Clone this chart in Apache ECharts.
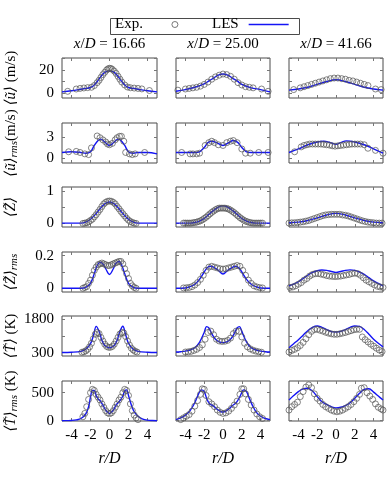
<!DOCTYPE html>
<html><head><meta charset="utf-8">
<script src="https://cdn.jsdelivr.net/npm/echarts@6/dist/echarts.min.js"></script>
<style>html,body{margin:0;padding:0;background:#fff}#c{width:390px;height:496px}</style>
</head><body><div id="c"></div>
<script>
// ---------- DATA ----------
const X_TICKS = [-4, -2, 0, 2, 4];
const COLUMN_TITLES = ['16.66', '25.00', '41.66'];

// Row 1: <u> (m/s)
const U_EXP_1 = [[-4.4,1.5],[-3.5,3.5],[-3.1,4],[-2.7,4.4],[-2.3,4.7],[-1.9,5],[-1.6,6.5],[-1.3,9],[-1.1,11],[-0.9,13.5],[-0.7,16],[-0.5,18],[-0.3,20],[-0.15,21],[0,21.5],[0.15,21.3],[0.3,20.5],[0.5,19],[0.7,17],[0.9,14.5],[1.1,12],[1.3,9.5],[1.6,7],[1.9,5.2],[2.2,4.6],[2.6,4.3],[3,4],[3.4,3.6],[4.2,2.2]];
const U_LES_1 = [[-5,1],[-4,2],[-3,3.3],[-2.5,4],[-2,4.8],[-1.6,7],[-1.2,11],[-0.8,15.5],[-0.4,18.3],[0,19.2],[0.4,18.3],[0.8,15.5],[1.2,11],[1.6,7],[2,4.8],[2.5,4],[3,3.3],[4,2],[5,1]];
const U_EXP_2 = [[-4.8,2.5],[-4,3.5],[-3.6,4],[-3.2,4.5],[-2.8,5],[-2.4,6],[-2,7.5],[-1.6,9.5],[-1.2,12],[-0.8,14],[-0.4,15.5],[0,16.5],[0.4,16],[0.8,14.5],[1.2,12],[1.6,9],[2,7],[2.4,5.5],[2.8,5],[3.2,4.5],[4.1,3.5],[4.8,1.5]];
const U_LES_2 = [[-5,1.5],[-4,3],[-3,5],[-2,8],[-1.5,10.5],[-1,13],[-0.5,15.5],[0,16.5],[0.5,15.5],[1,13],[1.5,10.5],[2,7.5],[3,4.5],[4,3],[5,1]];
const U_EXP_3 = [[-4.5,3],[-3.8,4.5],[-3.4,5.5],[-3,6.5],[-2.6,7.5],[-2.2,8.5],[-1.8,9.5],[-1.4,10.5],[-1,11.5],[-0.6,12.5],[-0.2,13],[0.2,13],[0.6,12.5],[1,12],[1.4,11],[1.8,10.5],[2.2,9.5],[2.6,8.5],[3,7.5],[3.4,6.5],[4.2,3.5],[4.8,3]];
const U_LES_3 = [[-5,2.5],[-4,3.5],[-3,5],[-2,7.5],[-1,10],[0,11.5],[1,10],[2,7.5],[3,5],[4,3.5],[5,2.5]];

// Row 2: <u>_rms (m/s)
const URMS_EXP_1 = [[-4.3,0.9],[-3.5,0.95],[-3.1,0.8],[-2.6,0.6],[-2.2,0.5],[-1.9,1.45],[-1.3,3.15],[-1,2.9],[-0.7,2.6],[-0.4,2.3],[-0.2,2.0],[0,1.9],[0.3,2.1],[0.6,2.6],[0.8,2.9],[1.05,3.1],[1.25,3.1],[1.5,2.4],[1.7,0.8],[2.1,0.6],[2.4,0.5],[2.7,0.6],[3.7,0.8]];
const URMS_LES_1 = [[-5,0.8],[-4,0.9],[-3,0.8],[-2.5,0.7],[-2,0.9],[-1.6,1.8],[-1.2,2.5],[-0.9,2.7],[-0.5,2.3],[0,1.8],[0.5,2.3],[0.9,2.7],[1.2,2.5],[1.6,1.8],[2,0.9],[2.5,0.7],[3,0.8],[4,0.8],[5,0.6]];
const URMS_EXP_2 = [[-4.4,0.8],[-3.5,0.6],[-3.2,0.6],[-2.8,0.6],[-2.5,0.7],[-1.9,1.8],[-1.5,2.2],[-1.2,2.4],[-0.9,2.2],[-0.5,1.9],[0,1.8],[0.4,2.2],[0.8,2.4],[1.1,2.5],[1.5,2.2],[2,1.3],[2.4,0.7],[2.9,0.7],[3.8,0.8],[4.8,0.8]];
const URMS_LES_2 = [[-5,0.8],[-4,0.8],[-3,0.8],[-2.5,0.9],[-2,1.5],[-1.6,2.2],[-1.2,2.4],[-0.7,2.2],[0,1.8],[0.6,2.2],[1.1,2.5],[1.6,2.2],[2,1.5],[2.5,0.9],[3,0.8],[4,0.8],[5,0.8]];
const URMS_EXP_3 = [[-4.4,0.9],[-3.7,1.6],[-3.4,1.8],[-3.1,1.9],[-2.8,2.0],[-2.5,2.0],[-2.2,2.0],[-1.9,2.0],[-1.6,2.0],[-1.3,1.95],[-1,1.9],[-0.7,1.85],[-0.4,1.75],[-0.1,1.7],[0.2,1.75],[0.5,1.8],[0.8,1.85],[1.1,1.9],[1.4,1.95],[1.7,2.0],[2,2.0],[2.3,2.0],[2.6,2.0],[3,1.9],[3.4,1.4],[4.2,1.1],[5,0.7]];
const URMS_LES_3 = [[-5,0.8],[-4,1.3],[-3,1.9],[-2,2.3],[-1.3,2.4],[-0.6,2.2],[0,1.95],[0.5,2.2],[1.1,2.45],[2,2.3],[3,1.9],[4,1.3],[5,0.7]];

// Row 3: <Z>
const Z_EXP_1 = [[-2.8,0],[-2.6,0.01],[-2.4,0.02],[-2.2,0.05],[-2,0.09],[-1.8,0.13],[-1.6,0.2],[-1.4,0.27],[-1.2,0.35],[-1,0.43],[-0.8,0.52],[-0.6,0.6],[-0.4,0.65],[-0.2,0.68],[0,0.69],[0.2,0.68],[0.4,0.65],[0.6,0.6],[0.8,0.52],[1,0.45],[1.2,0.37],[1.4,0.3],[1.6,0.23],[1.8,0.16],[2,0.1],[2.2,0.06],[2.4,0.03],[2.6,0.01],[2.8,0]];
const Z_LES_1 = [[-5,0.01],[-3,0.01],[-2.5,0.04],[-2,0.13],[-1.5,0.27],[-1,0.45],[-0.5,0.6],[0,0.66],[0.5,0.6],[1,0.45],[1.5,0.27],[2,0.13],[2.5,0.04],[3,0.01],[5,0.01]];
const Z_EXP_2 = [[-4.2,0.01],[-4,0.01],[-3.8,0.01],[-3.6,0.01],[-3.4,0.01],[-3.2,0.02],[-3,0.03],[-2.8,0.04],[-2.6,0.06],[-2.4,0.08],[-2.2,0.11],[-2,0.15],[-1.8,0.19],[-1.6,0.24],[-1.4,0.29],[-1.2,0.34],[-1,0.38],[-0.8,0.42],[-0.6,0.45],[-0.4,0.47],[-0.2,0.47],[0,0.47],[0.2,0.47],[0.4,0.46],[0.6,0.44],[0.8,0.41],[1,0.37],[1.2,0.33],[1.4,0.28],[1.6,0.23],[1.8,0.18],[2,0.14],[2.2,0.1],[2.4,0.07],[2.6,0.05],[2.8,0.03],[3,0.02],[3.2,0.01],[3.4,0.01],[3.6,0.01],[3.8,0.01],[4,0.01],[4.2,0.01]];
const Z_LES_2 = [[-5,0.01],[-3.5,0.01],[-3,0.03],[-2.5,0.07],[-2,0.15],[-1.5,0.28],[-1,0.4],[-0.5,0.5],[0,0.54],[0.5,0.5],[1,0.4],[1.5,0.28],[2,0.15],[2.5,0.07],[3,0.03],[3.5,0.01],[5,0.01]];
const Z_EXP_3 = [[-5,0.01],[-4.7,0.02],[-4.4,0.02],[-4.1,0.03],[-3.8,0.04],[-3.5,0.05],[-3.2,0.07],[-2.9,0.09],[-2.6,0.12],[-2.3,0.15],[-2,0.18],[-1.7,0.21],[-1.4,0.24],[-1.1,0.26],[-0.8,0.27],[-0.5,0.28],[-0.2,0.28],[0.1,0.28],[0.4,0.28],[0.7,0.26],[1,0.25],[1.3,0.23],[1.6,0.2],[1.9,0.17],[2.2,0.14],[2.5,0.11],[2.8,0.08],[3.1,0.06],[3.4,0.04],[3.7,0.03],[4,0.02],[4.3,0.01],[4.6,0.01],[4.9,0.01]];
const Z_LES_3 = [[-5,0.02],[-4,0.04],[-3,0.09],[-2,0.17],[-1,0.26],[0,0.31],[1,0.26],[2,0.17],[3,0.09],[4,0.04],[5,0.02]];

// Row 4: <Z>_rms
const ZRMS_EXP_1 = [[-2.8,0],[-2.6,0.005],[-2.4,0.01],[-2.2,0.03],[-2,0.05],[-1.8,0.08],[-1.6,0.11],[-1.4,0.13],[-1.2,0.145],[-1,0.15],[-0.8,0.155],[-0.6,0.15],[-0.4,0.145],[-0.2,0.14],[0,0.14],[0.2,0.145],[0.4,0.15],[0.6,0.155],[0.8,0.16],[1,0.165],[1.2,0.165],[1.4,0.15],[1.6,0.12],[1.8,0.09],[2,0.06],[2.2,0.03],[2.4,0.015],[2.6,0.005],[2.8,0]];
const ZRMS_LES_1 = [[-5,0],[-3,0],[-2.5,0.005],[-2,0.03],[-1.6,0.09],[-1.3,0.14],[-1,0.16],[-0.7,0.15],[-0.4,0.12],[0,0.085],[0.4,0.12],[0.7,0.155],[1,0.165],[1.3,0.14],[1.6,0.09],[2,0.03],[2.5,0.005],[3,0],[5,0]];
const ZRMS_EXP_2 = [[-4.2,0.002],[-3.9,0.003],[-3.6,0.005],[-3.3,0.01],[-3,0.02],[-2.7,0.035],[-2.4,0.055],[-2.1,0.08],[-1.8,0.11],[-1.5,0.13],[-1.2,0.135],[-0.9,0.13],[-0.6,0.125],[-0.3,0.12],[0,0.118],[0.3,0.12],[0.6,0.125],[0.9,0.13],[1.2,0.135],[1.5,0.14],[1.8,0.135],[2.1,0.11],[2.4,0.08],[2.7,0.05],[3,0.03],[3.3,0.015],[3.6,0.008],[3.9,0.004],[4.2,0.002]];
const ZRMS_LES_2 = [[-5,0],[-4,0.002],[-3.5,0.01],[-3,0.025],[-2.5,0.055],[-2,0.1],[-1.7,0.125],[-1.4,0.135],[-1,0.13],[-0.5,0.11],[0,0.088],[0.5,0.11],[1,0.128],[1.3,0.135],[1.7,0.125],[2,0.1],[2.5,0.055],[3,0.025],[3.5,0.01],[4,0.002],[5,0]];
const ZRMS_EXP_3 = [[-4.9,0.005],[-4.6,0.008],[-4.3,0.015],[-4,0.025],[-3.7,0.035],[-3.4,0.05],[-3.1,0.06],[-2.8,0.075],[-2.5,0.085],[-2.2,0.09],[-1.9,0.09],[-1.6,0.087],[-1.3,0.083],[-1,0.078],[-0.7,0.075],[-0.4,0.073],[-0.1,0.072],[0.2,0.073],[0.5,0.075],[0.8,0.078],[1.1,0.082],[1.4,0.085],[1.7,0.09],[2,0.093],[2.3,0.09],[2.6,0.08],[2.9,0.065],[3.2,0.05],[3.5,0.04],[3.8,0.03],[4.1,0.02],[4.4,0.012],[4.7,0.008],[5,0.005]];
const ZRMS_LES_3 = [[-5,0.015],[-4.5,0.025],[-4,0.04],[-3.5,0.06],[-3,0.08],[-2.5,0.097],[-2,0.108],[-1.5,0.112],[-1,0.11],[-0.5,0.103],[0,0.098],[0.5,0.103],[1,0.11],[1.5,0.113],[2,0.11],[2.5,0.1],[3,0.085],[3.5,0.065],[4,0.045],[4.5,0.03],[5,0.015]];

// Row 5: <T> (K)
const T_EXP_1 = [[-2.9,320],[-2.7,340],[-2.5,380],[-2.3,450],[-2.1,560],[-1.9,720],[-1.7,920],[-1.5,1120],[-1.3,1200],[-1.1,1150],[-0.9,980],[-0.7,820],[-0.5,680],[-0.3,580],[-0.1,540],[0.1,540],[0.3,580],[0.5,680],[0.7,820],[0.9,980],[1.1,1130],[1.3,1200],[1.5,1180],[1.7,1020],[1.9,820],[2.1,640],[2.3,500],[2.5,420],[2.7,360],[2.9,330]];
const T_LES_1 = [[-5,310],[-4,320],[-3,360],[-2.5,450],[-2,700],[-1.7,1050],[-1.4,1470],[-1.1,1250],[-0.8,850],[-0.5,620],[0,520],[0.5,620],[0.8,850],[1.1,1250],[1.4,1480],[1.7,1100],[2,720],[2.5,450],[3,360],[4,320],[5,310]];
const T_EXP_2 = [[-4,330],[-3.7,340],[-3.4,360],[-3.1,400],[-2.8,450],[-2.5,530],[-2.2,650],[-1.9,900],[-1.6,1200],[-1.3,1260],[-1,1100],[-0.7,900],[-0.4,820],[-0.1,800],[0.2,810],[0.5,850],[0.8,950],[1.1,1150],[1.4,1260],[1.7,1250],[2,1000],[2.3,720],[2.6,560],[2.9,470],[3.2,410],[3.5,370],[3.8,340],[4.1,320]];
const T_LES_2 = [[-5,330],[-4.5,345],[-4,370],[-3.5,420],[-3,520],[-2.5,760],[-2,1200],[-1.75,1460],[-1.5,1400],[-1.2,1150],[-0.8,900],[-0.4,780],[0,750],[0.4,780],[0.8,900],[1.2,1150],[1.5,1400],[1.75,1460],[2,1250],[2.5,780],[3,520],[3.5,420],[4,370],[4.5,345],[5,330]];
const T_EXP_3 = [[-5,330],[-4.7,400],[-4.4,450],[-4.1,520],[-3.8,620],[-3.5,760],[-3.2,920],[-2.9,1100],[-2.6,1250],[-2.3,1330],[-2,1340],[-1.7,1300],[-1.4,1260],[-1.1,1210],[-0.8,1170],[-0.5,1140],[-0.2,1120],[0.1,1120],[0.4,1140],[0.7,1170],[1,1200],[1.3,1240],[1.6,1280],[1.9,1320],[2.2,1340],[2.5,1340],[2.8,1000],[3.1,880],[3.4,780],[3.7,680],[4,590],[4.3,500],[4.6,420],[4.9,350]];
const T_LES_3 = [[-5,520],[-4.5,700],[-4,880],[-3.5,1080],[-3,1280],[-2.5,1430],[-2,1490],[-1.5,1430],[-1,1330],[-0.5,1240],[0,1220],[0.5,1250],[1,1330],[1.5,1430],[2,1490],[2.5,1470],[3,1330],[3.5,1120],[4,900],[4.5,720],[5,560]];

// Row 6: <T>_rms (K)
const TRMS_EXP_1 = [[-2.8,70],[-2.6,130],[-2.4,250],[-2.2,380],[-2,500],[-1.8,560],[-1.6,540],[-1.4,470],[-1.2,420],[-1,370],[-0.8,300],[-0.6,240],[-0.4,180],[-0.2,140],[0,125],[0.2,140],[0.4,180],[0.6,240],[0.8,300],[1,370],[1.2,420],[1.4,500],[1.6,560],[1.8,540],[2,450],[2.2,300],[2.4,180],[2.6,100],[2.8,50],[3,20]];
const TRMS_LES_1 = [[-5,0],[-4.5,2],[-4,5],[-3.5,15],[-3,40],[-2.5,120],[-2.2,250],[-2,420],[-1.8,540],[-1.6,540],[-1.4,450],[-1.2,390],[-1,360],[-0.7,280],[-0.4,190],[0,130],[0.4,190],[0.7,280],[1,340],[1.2,380],[1.4,440],[1.6,530],[1.8,550],[2,450],[2.3,280],[2.6,160],[3,80],[3.5,30],[4,10],[4.5,3],[5,0]];
const TRMS_EXP_2 = [[-4.5,20],[-4.2,50],[-3.9,80],[-3.6,110],[-3.3,170],[-3,260],[-2.7,360],[-2.4,470],[-2.2,570],[-2,560],[-1.8,450],[-1.5,340],[-1.2,300],[-0.9,250],[-0.6,190],[-0.3,150],[0,130],[0.3,140],[0.6,170],[0.9,220],[1.2,280],[1.5,350],[1.8,470],[2,570],[2.2,570],[2.4,480],[2.7,380],[3,280],[3.3,190],[3.6,120],[3.9,70],[4.2,40]];
const TRMS_LES_2 = [[-5,20],[-4.5,50],[-4,100],[-3.5,180],[-3,320],[-2.6,480],[-2.3,550],[-2,520],[-1.7,380],[-1.4,300],[-1,260],[-0.6,200],[-0.2,160],[0,155],[0.3,170],[0.7,220],[1,270],[1.4,320],[1.8,430],[2.2,550],[2.5,520],[2.8,400],[3.2,250],[3.6,140],[4,80],[4.5,40],[5,20]];
const TRMS_EXP_3 = [[-5,190],[-4.7,250],[-4.4,290],[-4.1,330],[-3.8,430],[-3.5,520],[-3.2,600],[-2.9,640],[-2.6,590],[-2.3,480],[-2,400],[-1.7,350],[-1.4,290],[-1.1,250],[-0.8,220],[-0.5,190],[-0.2,170],[0.1,160],[0.4,170],[0.7,190],[1,220],[1.3,250],[1.6,290],[1.9,340],[2.2,400],[2.5,470],[2.7,580],[3,590],[3.3,500],[3.6,440],[3.9,380],[4.2,300],[4.5,240],[4.8,210],[5,190]];
const TRMS_LES_3 = [[-5,370],[-4.5,450],[-4,520],[-3.5,570],[-3,580],[-2.5,530],[-2,430],[-1.5,340],[-1,290],[-0.5,250],[0,230],[0.5,240],[1,270],[1.5,320],[2,400],[2.5,490],[3,560],[3.5,570],[4,510],[4.5,440],[5,370]];

// y-axis ranges, ticks and labels per row
const Y_MIN = [-4.3, -0.7, -0.11, -0.023, 153, -5];
const Y_MAX = [30.4, 5.0, 1.12, 0.223, 1933, 709];
const Y_TICKS = [[0,10,20,30],[0,3],[0,0.5,1],[0,0.1,0.2],[300,1050,1800],[0,500]];
const Y_LABELS = [[0,20],[0,3],[0,1],[0,0.2],[300,1800],[0,500]];
const Y_NAMES = [
  '{m|⟨ũ⟩} {r|(m/s)}',
  '{m|⟨ũ⟩}{s|rms}{r|(m/s)}',
  '{m|⟨Z̃⟩}',
  '{m|⟨Z̃⟩}{s|rms}',
  '{m|⟨T̃⟩} {r|(K)}',
  '{m|⟨T̃⟩}{s|rms} {r|(K)}'
];

const EXP = [
  [U_EXP_1, U_EXP_2, U_EXP_3],
  [URMS_EXP_1, URMS_EXP_2, URMS_EXP_3],
  [Z_EXP_1, Z_EXP_2, Z_EXP_3],
  [ZRMS_EXP_1, ZRMS_EXP_2, ZRMS_EXP_3],
  [T_EXP_1, T_EXP_2, T_EXP_3],
  [TRMS_EXP_1, TRMS_EXP_2, TRMS_EXP_3]
];
const LES = [
  [U_LES_1, U_LES_2, U_LES_3],
  [URMS_LES_1, URMS_LES_2, URMS_LES_3],
  [Z_LES_1, Z_LES_2, Z_LES_3],
  [ZRMS_LES_1, ZRMS_LES_2, ZRMS_LES_3],
  [T_LES_1, T_LES_2, T_LES_3],
  [TRMS_LES_1, TRMS_LES_2, TRMS_LES_3]
];

// ---------- LAYOUT / STYLE ----------
const FONT = '"Liberation Serif", "DejaVu Serif", serif';
const COL_LEFT = [62, 176, 289];
const COL_W = [95, 94, 94];
const ROW_TOP = [58, 123, 187, 252, 316, 381];
const ROW_H = 40;
const FRAME = '#4a4a4a';
const TICKC = '#777';
const BLUE = '#1414f5';
const MARK = '#555';

const grid = [], xAxis = [], yAxis = [], series = [];
const richName = {
  m: {fontFamily: FONT, fontSize: 15, fontStyle: 'italic', color: '#000', lineHeight: 18},
  r: {fontFamily: FONT, fontSize: 15, color: '#000', lineHeight: 18},
  s: {fontFamily: FONT, fontSize: 11, fontStyle: 'italic', color: '#000', lineHeight: 11, verticalAlign: 'bottom'}
};
const plain = v => String(v);

for (let i = 0; i < 6; i++) {
  for (let j = 0; j < 3; j++) {
    const g = grid.length;
    grid.push({left: COL_LEFT[j], top: ROW_TOP[i], width: COL_W[j], height: ROW_H,
      show: true, borderColor: FRAME, borderWidth: 1, backgroundColor: 'transparent'});
    const bottomRow = i === 5;
    xAxis.push({type: 'value', gridIndex: g, min: -5, max: 5, position: 'bottom',
      axisLine: {show: false, onZero: false}, splitLine: {show: false},
      axisTick: {show: true, inside: true, length: 3, customValues: X_TICKS, lineStyle: {color: TICKC}},
      axisLabel: {show: bottomRow, customValues: X_TICKS, margin: 7, fontFamily: FONT, fontSize: 15, color: '#000', formatter: plain},
      name: bottomRow ? 'r/D' : '', nameLocation: 'middle', nameGap: 30,
      nameTextStyle: {fontFamily: FONT, fontSize: 16, fontStyle: 'italic', color: '#000'}
    });
    xAxis.push({type: 'value', gridIndex: g, min: -5, max: 5, position: 'top',
      axisLine: {show: false, onZero: false}, splitLine: {show: false}, axisLabel: {show: false},
      axisTick: {show: true, inside: true, length: 3, customValues: X_TICKS, lineStyle: {color: TICKC}}
    });
    yAxis.push({type: 'value', gridIndex: g, min: Y_MIN[i], max: Y_MAX[i], position: 'left',
      axisLine: {show: false, onZero: false}, splitLine: {show: false},
      axisTick: {show: true, inside: true, length: 3, customValues: Y_TICKS[i], lineStyle: {color: TICKC}},
      axisLabel: {show: j === 0, customValues: Y_LABELS[i], margin: 8, fontFamily: FONT, fontSize: 15, color: '#000', formatter: plain},
      name: j === 0 ? Y_NAMES[i] : '', nameLocation: 'middle', nameRotate: 90, nameGap: 42,
      nameTextStyle: {fontFamily: FONT, fontSize: 15, color: '#000', rich: richName}
    });
    yAxis.push({type: 'value', gridIndex: g, min: Y_MIN[i], max: Y_MAX[i], position: 'right',
      axisLine: {show: false, onZero: false}, splitLine: {show: false}, axisLabel: {show: false},
      axisTick: {show: true, inside: true, length: 3, customValues: Y_TICKS[i], lineStyle: {color: TICKC}}
    });
    const xi = 2 * g, yi = 2 * g;
    series.push({name: 'LES', type: 'line', xAxisIndex: xi, yAxisIndex: yi, data: LES[i][j],
      smooth: 0.35, showSymbol: false, symbol: 'none', silent: true,
      lineStyle: {color: BLUE, width: 1.4}, itemStyle: {color: BLUE}, z: 2});
    series.push({name: 'Exp.', type: 'scatter', xAxisIndex: xi, yAxisIndex: yi, data: EXP[i][j],
      symbol: 'circle', symbolSize: 6, silent: true,
      itemStyle: {color: 'transparent', borderColor: MARK, borderWidth: 0.9}, z: 3});
  }
}

const titles = COLUMN_TITLES.map((t, j) => ({
  text: '{i|x}/{i|D} = ' + t,
  left: COL_LEFT[j] + COL_W[j] / 2, top: 37, textAlign: 'center', padding: 0,
  textStyle: {fontFamily: FONT, fontSize: 15, fontWeight: 'normal', color: '#000',
    rich: {i: {fontFamily: FONT, fontSize: 15, fontStyle: 'italic', color: '#000'}}}
}));

const option = {
  animation: false,
  backgroundColor: '#fff',
  title: titles,
  legend: [
    {data: [{name: 'Exp.', icon: 'circle', itemStyle: {color: 'transparent', borderColor: MARK, borderWidth: 1}}],
     left: 115, top: 17, padding: 0, itemWidth: 6, itemHeight: 6, align: 'right', selectedMode: false,
     textStyle: {fontFamily: FONT, fontSize: 15, color: '#000', padding: [0, 24, 0, 0]}},
    {data: [{name: 'LES', icon: 'rect', itemStyle: {color: BLUE}}],
     left: 212, top: 17, padding: 0, itemWidth: 40, itemHeight: 1.6, align: 'right', selectedMode: false,
     textStyle: {fontFamily: FONT, fontSize: 15, color: '#000', padding: [0, 5, 0, 0]}}
  ],
  graphic: [{type: 'rect', left: 108, top: 16, shape: {width: 189, height: 16},
    style: {fill: 'none', stroke: FRAME, lineWidth: 1}, silent: true}],
  grid, xAxis, yAxis, series
};

const chart = echarts.init(document.getElementById('c'), null, {renderer: 'canvas'});
chart.setOption(option);
</script>
</body></html>
